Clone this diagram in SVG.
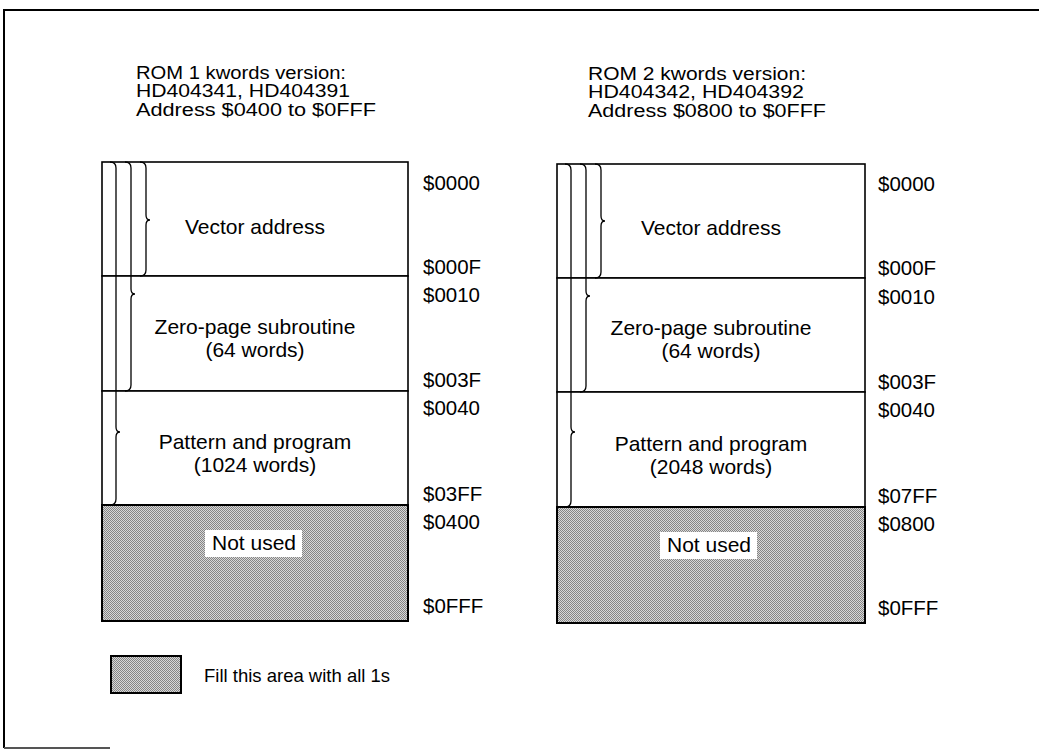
<svg xmlns="http://www.w3.org/2000/svg" width="1039" height="750" viewBox="0 0 1039 750">
<style>
text{font-family:"Liberation Sans",Arial,Helvetica,sans-serif;font-size:20.5px;fill:#000}
.h{font-size:18px}
.b{font-size:21px}
.lg{font-size:18.5px}
.c{text-anchor:middle}
.box{fill:#fff;stroke:#000;stroke-width:1.6}
.sh{fill:url(#dither);stroke:#000;stroke-width:2}
.br{stroke:#000;stroke-width:1.3;fill:none}
.lbl{fill:#fff}
</style>
<defs>
<pattern id="dither" width="2" height="2" patternUnits="userSpaceOnUse">
<rect width="2" height="2" fill="#d8d8d8"/>
<rect x="0" y="0" width="1" height="1" fill="#858585"/>
<rect x="1" y="1" width="1" height="1" fill="#858585"/>
</pattern>
</defs>
<rect width="1039" height="750" fill="#fff"/>
<g id="frame" fill="none" stroke="#000" stroke-width="2">
<path d="M4,748 L4,10 L1039,10"/>
<path d="M4,748 L110,748" stroke="#555"/>
</g>

<g id="rom1">
<g id="rom1-header">
<text class="h" x="136" y="78.5" textLength="210" lengthAdjust="spacingAndGlyphs">ROM 1 kwords version:</text>
<text class="h" x="136" y="97" textLength="214" lengthAdjust="spacingAndGlyphs">HD404341, HD404391</text>
<text class="h" x="136" y="115.5" textLength="240" lengthAdjust="spacingAndGlyphs">Address $0400 to $0FFF</text>
</g>
<g id="rom1-vector">
<rect class="box" x="102" y="162" width="306" height="114"/>
<text class="b c" x="255" y="234">Vector address</text>
</g>
<g id="rom1-zeropage">
<rect class="box" x="102" y="276" width="306" height="115"/>
<text class="b c" x="255" y="334">Zero-page subroutine</text>
<text class="b c" x="255" y="357">(64 words)</text>
</g>
<g id="rom1-pattern">
<rect class="box" x="102" y="391" width="306" height="114"/>
<text class="b c" x="255" y="449">Pattern and program</text>
<text class="b c" x="255" y="472">(1024 words)</text>
</g>
<g id="rom1-notused">
<rect class="sh" x="102" y="505" width="306" height="116"/>
<rect class="lbl" x="205" y="530" width="97" height="27"/>
<text class="b c" x="254" y="550">Not used</text>
</g>
<g id="rom1-braces">
<path class="br" d="M140,162 Q146,162 146,168 L146,215 Q146,220 150,220 Q146,220 146,225 L146,270 Q146,276 140,276"/>
<path class="br" d="M125,162 Q131,162 131,168 L131,289 Q131,294 135,294 Q131,294 131,299 L131,385 Q131,391 125,391"/>
<path class="br" d="M110,162 Q116,162 116,168 L116,427 Q116,432 120,432 Q116,432 116,437 L116,499 Q116,505 110,505"/>
</g>
<g id="rom1-addresses">
<text x="423" y="189.5">$0000</text>
<text x="423" y="273.5">$000F</text>
<text x="423" y="301.5">$0010</text>
<text x="423" y="386.5">$003F</text>
<text x="423" y="414.5">$0040</text>
<text x="423" y="500.5">$03FF</text>
<text x="423" y="528.5">$0400</text>
<text x="423" y="612.5">$0FFF</text>
</g>
</g>

<g id="rom2">
<g id="rom2-header">
<text class="h" x="588" y="79.5" textLength="218" lengthAdjust="spacingAndGlyphs">ROM 2 kwords version:</text>
<text class="h" x="588" y="98" textLength="216" lengthAdjust="spacingAndGlyphs">HD404342, HD404392</text>
<text class="h" x="588" y="116.5" textLength="238" lengthAdjust="spacingAndGlyphs">Address $0800 to $0FFF</text>
</g>
<g id="rom2-vector">
<rect class="box" x="557" y="164" width="308" height="114"/>
<text class="b c" x="711" y="235">Vector address</text>
</g>
<g id="rom2-zeropage">
<rect class="box" x="557" y="278" width="308" height="114"/>
<text class="b c" x="711" y="335">Zero-page subroutine</text>
<text class="b c" x="711" y="358">(64 words)</text>
</g>
<g id="rom2-pattern">
<rect class="box" x="557" y="392" width="308" height="115"/>
<text class="b c" x="711" y="451">Pattern and program</text>
<text class="b c" x="711" y="474">(2048 words)</text>
</g>
<g id="rom2-notused">
<rect class="sh" x="557" y="507" width="308" height="116"/>
<rect class="lbl" x="660" y="532" width="97" height="27"/>
<text class="b c" x="709" y="552">Not used</text>
</g>
<g id="rom2-braces">
<path class="br" d="M595,164 Q601,164 601,170 L601,216 Q601,221 605,221 Q601,221 601,226 L601,272 Q601,278 595,278"/>
<path class="br" d="M580,164 Q586,164 586,170 L586,291 Q586,296 590,296 Q586,296 586,301 L586,386 Q586,392 580,392"/>
<path class="br" d="M565,164 Q571,164 571,170 L571,427 Q571,432 575,432 Q571,432 571,437 L571,501 Q571,507 565,507"/>
</g>
<g id="rom2-addresses">
<text x="878" y="190.5">$0000</text>
<text x="878" y="274.5">$000F</text>
<text x="878" y="303.5">$0010</text>
<text x="878" y="388.5">$003F</text>
<text x="878" y="416.5">$0040</text>
<text x="878" y="502.5">$07FF</text>
<text x="878" y="530.5">$0800</text>
<text x="878" y="614.5">$0FFF</text>
</g>
</g>

<g id="legend">
<rect class="sh" x="111" y="656" width="70" height="37"/>
<text class="lg" x="204" y="682">Fill this area with all 1s</text>
</g>
</svg>
